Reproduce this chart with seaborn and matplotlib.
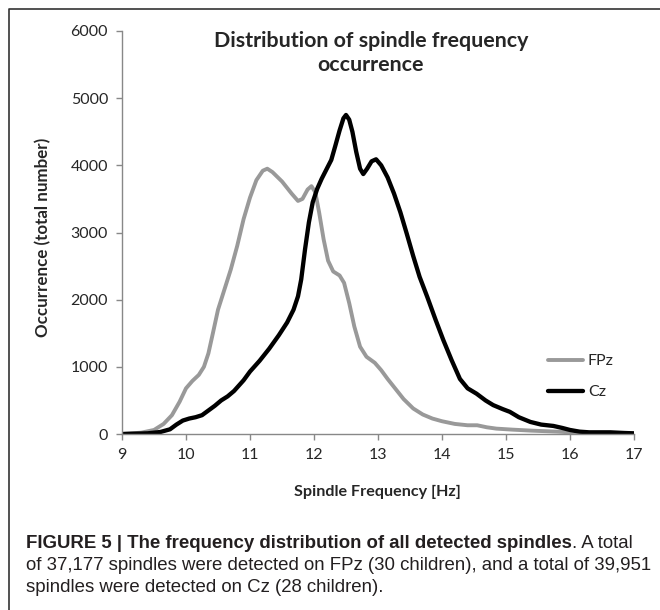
import pandas as pd  # pandas - для таблицы с данными
import matplotlib
matplotlib.use('Agg')
import matplotlib.pyplot as plt
from matplotlib.lines import Line2D
import seaborn as sns

# стиль графика
sns.set_style('ticks')
plt.rcParams['font.family'] = ['Lato', 'DejaVu Sans']

# данные
fpz_freq = [9.0, 9.3, 9.5, 9.65, 9.78, 9.9, 10.0, 10.1, 10.2, 10.28, 10.35, 10.42, 10.5, 10.6,
            10.7, 10.8, 10.9, 11.0, 11.1, 11.2, 11.27, 11.35, 11.5, 11.65, 11.75, 11.82, 11.9,
            11.96, 12.02, 12.08, 12.15, 12.22, 12.3, 12.4, 12.47, 12.55, 12.63, 12.72, 12.82,
            12.95, 13.05, 13.15, 13.25, 13.4, 13.55, 13.7, 13.85, 14.0, 14.2, 14.4, 14.55,
            14.7, 14.85, 15.1, 15.4, 15.8, 16.2, 16.6, 17.0]
fpz_count = [0, 20, 60, 150, 280, 480, 680, 790, 880, 1000, 1200, 1500, 1850, 2150,
             2450, 2800, 3200, 3520, 3780, 3920, 3950, 3900, 3760, 3580, 3470, 3500, 3640,
             3690, 3600, 3300, 2900, 2580, 2420, 2360, 2250, 1950, 1600, 1300, 1150,
             1060, 950, 820, 700, 520, 380, 290, 230, 190, 150, 130, 130,
             100, 80, 65, 50, 35, 15, 8, 5]

cz_freq = [9.0, 9.4, 9.6, 9.75, 9.85, 9.95, 10.05, 10.15, 10.25, 10.35, 10.45, 10.55, 10.65,
           10.75, 10.9, 11.0, 11.15, 11.3, 11.45, 11.58, 11.68, 11.75, 11.8, 11.86, 11.92,
           11.98, 12.05, 12.12, 12.2, 12.27, 12.33, 12.4, 12.46, 12.5, 12.55, 12.6, 12.66,
           12.72, 12.77, 12.83, 12.9, 12.97, 13.05, 13.15, 13.25, 13.35, 13.45, 13.55, 13.65,
           13.77, 13.9, 14.02, 14.15, 14.28, 14.4, 14.54, 14.68, 14.8, 14.95, 15.06, 15.2,
           15.38, 15.55, 15.74, 15.88, 16.0, 16.15, 16.3, 16.63, 16.85, 17.0]
cz_count = [0, 10, 30, 70, 140, 200, 230, 250, 280, 350, 420, 500, 560,
            640, 800, 930, 1090, 1270, 1470, 1660, 1850, 2050, 2300, 2750, 3150,
            3450, 3650, 3800, 3950, 4080, 4280, 4520, 4700, 4750, 4680, 4500, 4200,
            3950, 3870, 3950, 4060, 4090, 4000, 3820, 3580, 3300, 2980, 2650, 2340,
            2040, 1700, 1400, 1100, 820, 680, 600, 500, 430, 370, 330, 250,
            180, 140, 120, 90, 60, 35, 25, 25, 15, 10]

x_ticks = [9, 10, 11, 12, 13, 14, 15, 16, 17]
y_ticks = [0, 1000, 2000, 3000, 4000, 5000, 6000]

df = pd.concat([
    pd.DataFrame({'freq': fpz_freq, 'count': fpz_count, 'channel': 'FPz'}),
    pd.DataFrame({'freq': cz_freq, 'count': cz_count, 'channel': 'Cz'}),
])

W, H = 660, 610
fig = plt.figure(figsize=(W / 100, H / 100), dpi=100)
ax = fig.add_axes([122 / W, 1 - 434 / H, (634 - 122) / W, (434 - 31) / H])

sns.lineplot(data=df, x='freq', y='count', hue='channel', sort=False,
             palette={'FPz': '#999999', 'Cz': '#000000'}, ax=ax, legend=False)
ax.lines[0].set_linewidth(2.8)
ax.lines[1].set_linewidth(3.1)
for ln in ax.lines:
    ln.set_solid_joinstyle('round')
    ln.set_solid_capstyle('round')

ax.set_xlim(9, 17)
ax.set_ylim(0, 6000)
ax.set_xticks(x_ticks)
ax.set_yticks(y_ticks)
ax.tick_params(axis='both', labelsize=11.5, color='#888888', length=4, width=1, pad=6)
for s in ['top', 'right']:
    ax.spines[s].set_visible(False)
for s in ['left', 'bottom']:
    ax.spines[s].set_color('#888888')
    ax.spines[s].set_linewidth(1)
ax.set_xlabel('')
ax.set_ylabel('')

# подписи осей и заголовок
fig.text(43 / W, 1 - 237 / H, 'Occurrence (total number)', rotation=90, fontsize=12.2,
         fontweight='bold', ha='center', va='center')
fig.text(377 / W, 1 - 492 / H, 'Spindle Frequency [Hz]', fontsize=11.6,
         fontweight='bold', ha='center', va='center')
fig.text(371 / W, 1 - 53 / H, 'Distribution of spindle frequency\noccurrence', fontsize=15.4,
         fontweight='bold', ha='center', va='center', linespacing=1.25)

# легенда
handles = [Line2D([], [], color='#999999', lw=2.8), Line2D([], [], color='#000000', lw=3.1)]
fig.legend(handles, ['FPz', 'Cz'], loc='upper left', bbox_to_anchor=(548 / W, 1 - 354 / H),
           bbox_transform=fig.transFigure, frameon=False, fontsize=11.5, borderpad=0,
           borderaxespad=0, handlelength=2.2, handletextpad=0.3, labelspacing=1.05)

# рамка
fig.add_artist(Line2D([9 / W, 9 / W, 1], [0, 1 - 9 / H, 1 - 9 / H],
                      transform=fig.transFigure, color='#333333', lw=1.2))

# подпись к рисунку
cap_font = ['Liberation Sans Narrow', 'Liberation Sans', 'DejaVu Sans']
cap_size = 13.4
r = fig.canvas.get_renderer()
t1 = fig.text(26 / W, 1 - 543 / H, 'FIGURE 5 | The frequency distribution of all detected spindles',
              fontsize=cap_size, fontweight='bold', family=cap_font, va='center', color='#231f20')
bb = t1.get_window_extent(r)
fig.text(bb.x1 / W, 1 - 543 / H, '. A total', fontsize=cap_size, family=cap_font,
         va='center', color='#231f20')
fig.text(26 / W, 1 - 566 / H, 'of 37,177 spindles were detected on FPz (30 children), and a total of 39,951',
         fontsize=cap_size, family=cap_font, va='center', color='#231f20')
fig.text(26 / W, 1 - 588 / H, 'spindles were detected on Cz (28 children).',
         fontsize=cap_size, family=cap_font, va='center', color='#231f20')

fig.savefig('out.png', dpi=100)
